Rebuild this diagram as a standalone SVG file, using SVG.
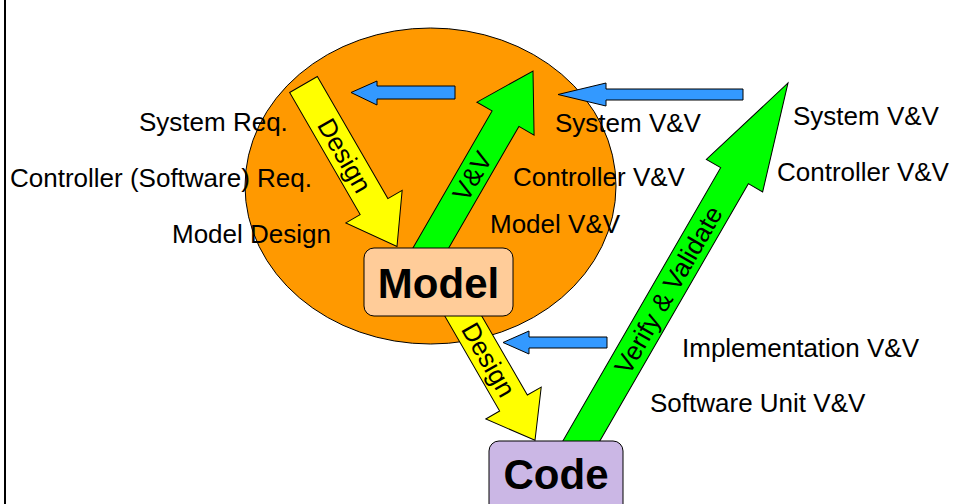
<svg xmlns="http://www.w3.org/2000/svg" width="956" height="504" viewBox="0 0 956 504">
<style>
  .lbl { font-family: "Liberation Sans", Arial, sans-serif; font-size: 26px; fill: #000; }
  .alb { font-family: "Liberation Sans", Arial, sans-serif; font-size: 26px; fill: #000; text-anchor: middle; }
  .node { font-family: "Liberation Sans", Arial, sans-serif; font-size: 42px; font-weight: bold; fill: #000; text-anchor: middle; }
  .sk { stroke: #000; stroke-width: 1; stroke-linejoin: miter; }
  .yel { fill: #FFFF00; }
  .grn { fill: #00FF00; }
  .blu { fill: #3399FF; }
</style>
<rect x="0" y="0" width="956" height="504" fill="#FFFFFF"/>
<line x1="5" y1="0" x2="5" y2="504" stroke="#000" stroke-width="2"/>

<g id="model-scope">
  <ellipse cx="430.5" cy="186" rx="185.5" ry="158" fill="#FF9900" class="sk"/>
</g>

<g id="connectors">
  <g id="design-top" transform="translate(303.5,84.5) rotate(60)">
    <polygon class="yel sk" points="0,-16 141,-16 141,-32.5 187,0 141,32.5 141,16 0,16"/>
    <text class="alb" x="82" y="9">Design</text>
  </g>
  <g id="vv-model" transform="translate(418,270.2) rotate(-60)">
    <polygon class="grn sk" points="0,-15.5 175,-15.5 175,-33 230,0 175,33 175,15.5 0,15.5"/>
    <text class="alb" x="108.6" y="9">V&amp;V</text>
  </g>
  <g id="design-bottom" transform="translate(454,300) rotate(60)">
    <polygon class="yel sk" points="0,-16 119,-16 119,-32 162,0 119,32 119,16 0,16"/>
    <text class="alb" x="69" y="9">Design</text>
  </g>
  <g id="verify-validate" transform="translate(570.5,459.7) rotate(-60)">
    <polygon class="grn sk" points="0,-16 328,-16 328,-32.5 435,0 328,32.5 328,16 0,16"/>
    <text class="alb" x="196" y="9">Verify &amp; Validate</text>
  </g>
  <polygon id="feedback-a" class="blu sk" points="351,92.5 377,81 377,86 455,86 455,99 377,99 377,105"/>
  <polygon id="feedback-b" class="blu sk" points="558,94.5 606,83 606,89 743,89 743,100 606,100 606,106"/>
  <polygon id="feedback-c" class="blu sk" points="503,342.5 529,331 529,337 607,337 607,348 529,348 529,354"/>
</g>

<g id="node-model">
  <rect x="364" y="248" width="149" height="68" rx="10" ry="10" fill="#FFCC99" class="sk"/>
  <text class="node" x="438.5" y="298">Model</text>
</g>

<g id="node-code">
  <rect x="489" y="441" width="134" height="75" rx="10" ry="10" fill="#CBB7E5" class="sk"/>
  <text class="node" x="556" y="489">Code</text>
</g>

<g id="labels">
  <text class="lbl" x="139" y="131">System Req.</text>
  <text class="lbl" x="10" y="187">Controller (Software) Req.</text>
  <text class="lbl" x="172" y="243">Model Design</text>
  <text class="lbl" x="555" y="132">System V&amp;V</text>
  <text class="lbl" x="513" y="186">Controller V&amp;V</text>
  <text class="lbl" x="490" y="233">Model V&amp;V</text>
  <text class="lbl" x="793" y="125">System V&amp;V</text>
  <text class="lbl" x="777" y="181">Controller V&amp;V</text>
  <text class="lbl" x="682" y="357">Implementation V&amp;V</text>
  <text class="lbl" x="650" y="412">Software Unit V&amp;V</text>
</g>
</svg>
